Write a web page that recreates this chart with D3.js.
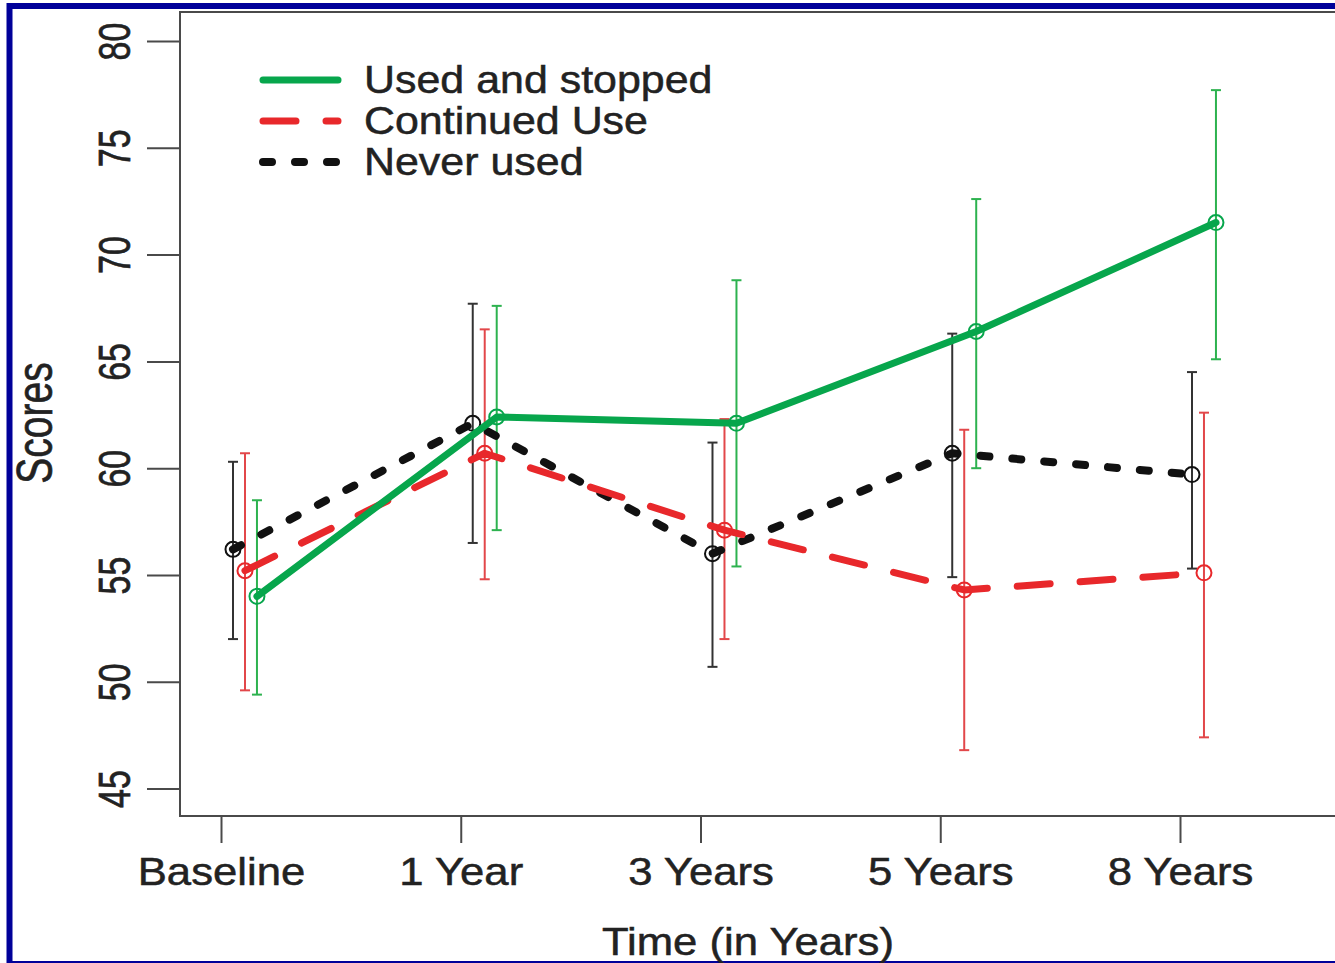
<!DOCTYPE html>
<html>
<head>
<meta charset="utf-8">
<script src="https://cdn.jsdelivr.net/npm/d3@7"></script>
<style>
body { margin: 0; background: #ffffff; }
text { font-family: "Liberation Sans", Arial, sans-serif; fill: #222222; stroke: #222222; stroke-width: 0.5px; }
</style>
</head>
<body>
<div id="scores"></div>
<script>
//
// Scores over time by group, with error bars
//

var categories = ["Baseline", "1 Year", "3 Years", "5 Years", "8 Years"];
var yTicks = [45, 50, 55, 60, 65, 70, 75, 80];

var stoppedMean = [54.0, 62.4, 62.1, 66.4, 71.5];
var stoppedLo = [49.4, 57.1, 55.4, 60.0, 65.1];
var stoppedHi = [58.5, 67.6, 68.8, 72.6, 77.7];

var continuedMean = [55.2, 60.7, 57.1, 54.3, 55.1];
var continuedLo = [49.6, 54.8, 52.0, 46.8, 47.4];
var continuedHi = [60.7, 66.5, 62.3, 61.8, 62.6];

var neverMean = [56.2, 62.1, 56.0, 60.7, 59.7];
var neverLo = [52.0, 56.5, 50.7, 54.9, 55.3];
var neverHi = [60.3, 67.7, 61.2, 66.3, 64.5];

var seriesNames = ["Used and stopped", "Continued Use", "Never used"];

//
// series styles; drawn back to front (never, continued, stopped)
//

var series = [
	{name: seriesNames[2], mean: neverMean, lo: neverLo, hi: neverHi, off: 0.05,
		line: "#111111", bar: "#333333", width: 8, dash: "9,23"},
	{name: seriesNames[1], mean: continuedMean, lo: continuedLo, hi: continuedHi, off: 0.10,
		line: "#e8282b", bar: "#e2474a", width: 7, dash: "33,30"},
	{name: seriesNames[0], mean: stoppedMean, lo: stoppedLo, hi: stoppedHi, off: 0.15,
		line: "#07a64c", bar: "#2db24f", width: 7, dash: null}
];

var W = 1335, H = 963;
var box = {left: 180, top: 12, bottom: 816};

var svg = d3.select("#scores").append("svg")
	.attr("width", W)
	.attr("height", H);

//
// blue frame round the figure
//

svg.append("rect")
	.attr("x", 9.5)
	.attr("y", 6)
	.attr("width", 1400)
	.attr("height", 958)
	.style("fill", "none")
	.style("stroke", "#000099")
	.style("stroke-width", 6);

//
// scales
//

var x = d3.scaleLinear().domain([0, 4]).range([221, 1180]);
var y = d3.scaleLinear().domain([45, 80]).range([788.6, 41]);

//
// plot box
//

svg.append("rect")
	.attr("x", box.left)
	.attr("y", box.top)
	.attr("width", 1400)
	.attr("height", box.bottom - box.top)
	.style("fill", "none")
	.style("stroke", "#4a4a4a")
	.style("stroke-width", 2);

//
// Y axis, labels turned like R does
//

var axisY = svg.append("g")
	.attr("transform", "translate(" + box.left + ",0)")
	.call(d3.axisLeft(y).tickValues(yTicks).tickSize(33).tickFormat(d3.format("d")));
axisY.select(".domain").remove();
axisY.selectAll("line").style("stroke", "#4a4a4a").style("stroke-width", 2);
axisY.selectAll("text")
	.attr("x", null)
	.attr("dy", null)
	.attr("text-anchor", "middle")
	.attr("transform", "translate(-50,0) rotate(-90) scale(1,1.32)")
	.style("font-size", "34px")
	.style("fill", "#222222");

svg.append("text")
	.attr("text-anchor", "middle")
	.attr("transform", "translate(52,423) rotate(-90) scale(1,1.3)")
	.style("font-size", "39px")
	.text("Scores");

//
// X axis
//

var axisX = svg.append("g")
	.attr("transform", "translate(0," + box.bottom + ")")
	.call(d3.axisBottom(x).tickValues(d3.range(categories.length)).tickSize(27)
		.tickFormat(function(i) { return categories[i]; }));
axisX.select(".domain").remove();
axisX.selectAll("line").style("stroke", "#4a4a4a").style("stroke-width", 2);
axisX.selectAll("text")
	.attr("y", 69)
	.attr("dy", null)
	.attr("transform", "scale(1.12,1)")
	.style("font-size", "39px")
	.style("fill", "#222222");

svg.append("text")
	.attr("text-anchor", "middle")
	.attr("transform", "translate(748,955) scale(1.12,1)")
	.style("font-size", "39px")
	.text("Time (in Years)");

//
// error bars
//

series.forEach(function(s) {
	var g = svg.append("g");
	var idx = d3.range(categories.length);
	g.selectAll(".bar")
		.data(idx)
		.enter().append("line")
		.attr("x1", function(i) { return x(i + s.off); })
		.attr("x2", function(i) { return x(i + s.off); })
		.attr("y1", function(i) { return y(s.lo[i]); })
		.attr("y2", function(i) { return y(s.hi[i]); })
		.style("stroke", s.bar)
		.style("stroke-width", 2);
	[s.lo, s.hi].forEach(function(end) {
		g.selectAll(null)
			.data(idx)
			.enter().append("line")
			.attr("x1", function(i) { return x(i + s.off) - 5; })
			.attr("x2", function(i) { return x(i + s.off) + 5; })
			.attr("y1", function(i) { return y(end[i]); })
			.attr("y2", function(i) { return y(end[i]); })
			.style("stroke", s.bar)
			.style("stroke-width", 2);
	});
});

//
// lines and open points
//

series.forEach(function(s) {
	var valueline = d3.line()
		.x(function(i) { return x(i + s.off); })
		.y(function(i) { return y(s.mean[i]); });

	svg.append("path")
		.attr("d", valueline(d3.range(categories.length)))
		.style("fill", "none")
		.style("stroke", s.line)
		.style("stroke-width", s.width)
		.style("stroke-linecap", "round")
		.style("stroke-linejoin", "round")
		.style("stroke-dasharray", s.dash);

	svg.selectAll(null)
		.data(d3.range(categories.length))
		.enter().append("circle")
		.attr("r", 7.5)
		.attr("cx", function(i) { return x(i + s.off); })
		.attr("cy", function(i) { return y(s.mean[i]); })
		.style("fill", "none")
		.style("stroke", s.line)
		.style("stroke-width", 2);
});

//
// legend
//

var legend = [series[2], series[1], series[0]];
var leg = svg.append("g");

legend.forEach(function(s, k) {
	var ly = 80 + k * 41;
	leg.append("line")
		.attr("x1", 263)
		.attr("x2", 338)
		.attr("y1", ly)
		.attr("y2", ly)
		.style("stroke", s.line)
		.style("stroke-width", s.width)
		.style("stroke-linecap", "round")
		.style("stroke-dasharray", s.dash);
	leg.append("text")
		.attr("transform", "translate(364," + (ly + 13) + ") scale(1.13,1)")
		.style("font-size", "38px")
		.text(s.name);
});
</script>
</body>
</html>
